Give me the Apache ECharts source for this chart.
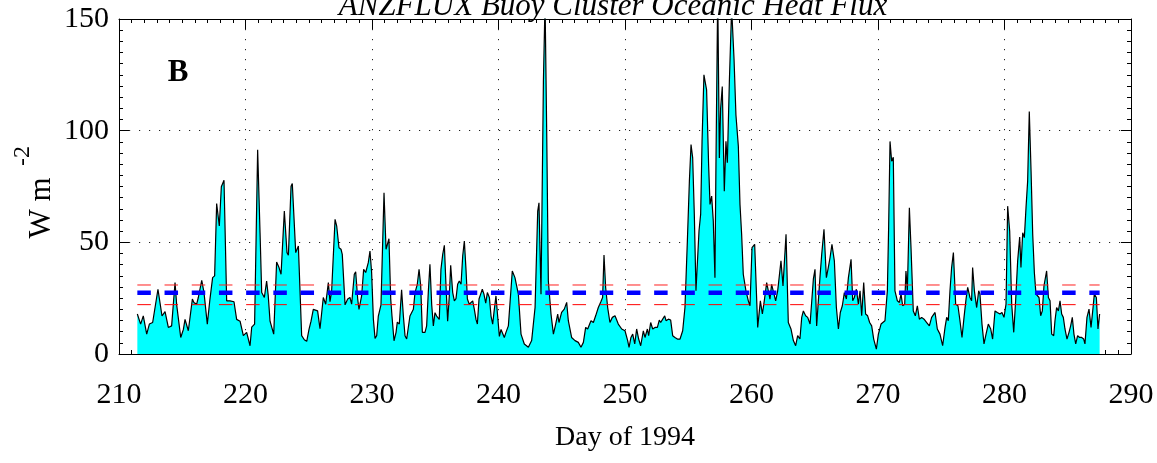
<!DOCTYPE html>
<html>
<head>
<meta charset="utf-8">
<script src="https://cdn.jsdelivr.net/npm/echarts@6/dist/echarts.min.js"></script>
<style>
html,body{margin:0;padding:0;background:#fff;}
#c{width:1157px;height:463px;}
</style>
</head>
<body>
<div id="c"></div>
<script>
// ---- data ----
const xTicks = [210, 220, 230, 240, 250, 260, 270, 280, 290];
const yTicks = [0, 50, 100, 150];
const days = [
211.45,211.71,211.92,212.19,212.40,212.66,213.08,213.40,213.64,213.90,214.16,214.43,214.56,214.88,215.09,215.22,215.48,215.80,215.93,216.14,216.27,216.54,216.72,216.98,217.19,217.40,217.56,217.72,217.93,218.09,218.30,218.51,218.77,219.09,219.30,219.57,219.83,220.09,220.36,220.49,220.72,220.96,
221.15,221.28,221.49,221.67,221.80,221.94,222.07,222.23,222.33,222.46,222.65,222.81,223.07,223.28,223.39,223.60,223.70,223.97,224.18,224.31,224.44,224.65,224.84,225.02,225.18,225.36,225.49,225.70,225.89,226.02,226.15,226.34,226.55,226.68,226.81,227.08,227.21,227.39,227.55,227.65,227.87,228.08,228.26,228.39,228.60,228.71,228.87,228.97,229.18,229.34,229.50,229.71,229.84,229.97,230.11,230.24,230.37,230.50,230.71,
230.95,231.11,231.21,231.34,231.48,231.58,231.74,231.90,232.00,232.16,232.34,232.48,232.61,232.74,233.00,233.14,233.27,233.40,233.58,233.72,233.85,233.98,234.19,234.32,234.45,234.58,234.72,234.85,234.98,235.11,235.32,235.45,235.59,235.72,235.85,235.98,236.11,236.22,236.38,236.51,236.64,236.77,236.90,237.04,237.17,237.30,237.43,237.54,237.69,237.83,237.96,238.09,238.22,238.33,238.46,238.59,238.72,238.85,238.99,239.12,239.28,239.41,239.54,239.64,239.80,239.91,240.07,240.20,240.33,240.46,240.59,240.78,
241.09,241.30,241.57,241.78,242.04,242.36,242.62,242.89,243.10,243.20,243.36,243.55,243.68,243.81,243.94,244.15,244.34,244.52,244.68,244.78,244.99,245.20,245.39,245.52,245.78,246.05,246.31,246.52,246.71,246.89,247.05,247.31,247.50,247.68,247.89,248.10,248.23,248.34,248.47,248.63,248.81,249.00,249.21,249.47,249.74,250.00,250.21,250.32,250.47,
250.61,250.77,250.92,251.08,251.24,251.45,251.58,251.77,251.87,252.03,252.19,252.37,252.56,252.71,252.82,252.98,253.14,253.24,253.43,253.61,253.77,253.95,254.14,254.35,254.56,254.74,254.93,255.09,255.22,255.35,255.48,255.61,255.72,255.85,255.98,256.09,256.24,256.45,256.61,256.72,256.85,256.98,257.11,257.19,257.33,257.46,257.56,257.69,257.85,257.98,258.09,258.25,258.43,258.62,258.77,258.96,259.09,259.22,259.35,259.56,259.75,259.88,260.04,260.25,
260.49,260.70,260.86,261.01,261.20,261.33,261.46,261.59,261.73,261.91,262.07,262.33,262.49,262.73,262.91,263.12,263.31,263.49,263.65,263.83,263.97,264.10,264.28,264.44,264.63,264.76,264.89,265.02,265.15,265.28,265.41,265.55,265.73,265.92,266.07,266.21,266.36,266.55,266.71,266.87,267.02,267.18,267.34,267.50,267.66,267.87,268.00,268.13,268.29,268.45,268.58,268.71,268.87,269.02,269.18,269.34,269.50,269.66,269.87,270.03,270.24,
270.37,270.55,270.74,270.84,270.95,271.08,271.21,271.34,271.53,271.69,271.82,271.95,272.11,272.21,272.32,272.48,272.61,272.79,272.95,273.11,273.27,273.45,273.64,273.85,274.06,274.24,274.37,274.51,274.69,274.90,275.11,275.30,275.43,275.56,275.69,275.82,275.96,276.14,276.32,276.48,276.64,276.80,276.96,277.09,277.27,277.40,277.48,277.62,277.80,277.96,278.06,278.22,278.38,278.54,278.72,278.91,279.06,279.25,279.43,279.64,279.80,279.96,280.12,
280.25,280.41,280.57,280.73,280.88,281.04,281.20,281.30,281.44,281.57,281.70,281.83,281.96,282.10,282.23,282.36,282.49,282.62,282.73,282.86,282.99,283.12,283.23,283.33,283.47,283.60,283.73,283.89,283.99,284.12,284.26,284.39,284.52,284.65,284.78,284.94,285.10,285.23,285.36,285.49,285.63,285.78,285.94,286.10,286.26,286.36,286.52,286.68,286.84,287.00,287.10,287.26,287.39,287.52
];
const flux = [
17.9,13.4,17.1,8.9,13.4,14.1,29,17,19,11.9,12.6,32,22,7.4,11,15.5,10.4,24.6,23,22.3,25.3,33,27.5,13.4,24.6,34.2,35,67.4,57.3,74.9,77.8,23.8,23.8,23.4,15.5,14.7,8.2,9.7,3.7,12,13.4,91.5,
54.3,27.5,25.3,32.7,26,14.7,15.5,8.9,8.9,41.2,38.7,35.7,64,45.4,44.2,75.1,76.3,45.4,48.4,47.6,8.2,6.4,5.7,11,14.7,20,20.8,19.3,11.3,11.3,25.3,22.3,32,23.4,28.3,60.3,57.3,47.6,46.9,44.6,22,24.6,25.3,22.3,35.7,36.8,24.6,20,26,37.9,36.5,41,46.1,36.5,15.5,7,8.2,17,22,
72.2,46.9,46.9,51.6,24.6,17,5.9,9.7,14.3,13.4,28.7,17,8.2,6.7,17,17.8,20,27.5,31.2,37.9,30.5,9.7,9.7,12.6,27.5,40.2,22,12.6,18.5,17,15.5,37.9,44.6,48.7,30.5,14.7,26,39.7,27.5,23.8,24.8,31.2,32.7,31.2,43.9,50.6,37.9,24.6,22.3,22,23.8,20,15.5,13.4,24.6,26.8,29,26.8,22.8,27.5,25.3,17,13.4,18.5,26,18.5,7.9,11,10.7,7.4,9.7,12.6,
37.2,34.2,26.8,8.9,4.5,3,6,20.8,64,67.7,26.8,122,158,99.7,32.7,17.9,8.9,13.4,17.9,14.1,18.6,20.1,23.1,14.9,7.4,6,5.2,3,5.2,11.9,11.2,14.9,14.1,17.1,20.8,23.5,25.3,44.3,29.8,20.8,14.1,16.4,17.1,13.4,11.2,10.4,6,3,7.4,
8.9,4.5,11.2,6.7,3.7,10.4,7.4,11.2,8.2,14.1,11.2,11.9,11.9,15.2,14.1,15.6,17.1,14.9,15.6,15.2,8.2,7.4,6.7,6.7,10.4,20.8,50.6,77.4,93.8,87.8,62.5,28.3,28.3,55.1,62.5,95.2,125,118.3,84.8,67,70.7,59.5,34.2,84.8,162,87.8,110,119.8,72.9,95.2,85.6,122,155,132,107,93,67,53.6,35.7,28.3,23.8,21.6,47.6,49.1,
11.9,23.8,17.9,23.8,32,31.2,24.6,31.2,31.2,23.8,28.3,41.7,30.5,53.6,14.1,11.2,6,3.7,8.2,6.7,16.4,19.3,17.1,16.4,13.4,12.6,33.5,37.9,12.6,11.9,34.2,44.6,55.8,34.2,38.7,43.2,49.1,41.7,20.8,11.2,18.6,21.6,27.5,24.6,34.2,42.4,23.8,25.3,29,22.3,28.3,17.1,32,17.9,17.1,14.1,12.6,6.7,2.2,8.9,13.4,
14.1,14.9,28.3,56.5,95.2,86.3,88.1,28.3,23.8,23.1,26.8,21.6,22.3,37.2,28.3,65.5,47.6,19.3,17.1,21.6,15.6,16.4,15.6,14.1,12.6,16.4,15.6,18.6,11.2,8.9,3.7,11.9,16.4,14.9,28.3,38.7,45.4,22.3,21.6,14.9,7.4,16.4,24.6,29.8,25.3,23.8,38.7,28.3,20.8,28.3,26.8,13.4,4.5,8.9,13.4,11.2,6.7,19.3,18.6,17.9,18.6,16.4,22.3,
66.2,55.1,22.3,9.7,23.8,41.7,52.4,38.7,54.3,52.1,65.5,77.4,108.6,81.8,53.6,36.5,26.8,26.8,25.3,17.1,19.3,30.5,29.8,37.2,25.3,23.8,8.9,8.2,14.9,20.8,19.3,23.8,17.9,16.4,11.2,6.7,9.7,12.6,16.4,8.9,4.5,8.2,7.4,7.4,6.7,4.5,16.4,20.1,11.9,20.8,26.8,25.3,11.2,17.9
];
const meanFlux = 27.4;   // thick blue dashed
const upperFlux = 30.9;  // thin red dashed
const lowerFlux = 22.1;  // thin red dashed

// ---- chart ----
const FONT = 'Liberation Serif';
const chart = echarts.init(document.getElementById('c'), null, {renderer: 'canvas'});
const fluxData = days.map((d, i) => [d, flux[i]]);
const x0 = days[0], x1 = days[days.length - 1];
const hLine = v => [[x0, v], [x1, v]];

const baseX = {
  type: 'value', min: xTicks[0], max: xTicks[xTicks.length - 1], interval: 10,
  axisLine: {show: true, onZero: false, lineStyle: {color: '#000', width: 1}},
  axisTick: {show: true, inside: true, length: 10, lineStyle: {color: '#000', width: 1}},
  minorTick: {show: true, splitNumber: 10, length: 4, lineStyle: {color: '#000', width: 1}},
};
const baseY = {
  type: 'value', min: yTicks[0], max: yTicks[yTicks.length - 1], interval: 50,
  axisLine: {show: true, onZero: false, lineStyle: {color: '#000', width: 1}},
  axisTick: {show: true, inside: true, length: 10, lineStyle: {color: '#000', width: 1}},
  minorTick: {show: true, splitNumber: 10, length: 4, lineStyle: {color: '#000', width: 1}},
};
const dotted = {show: true, showMinLine: false, showMaxLine: false,
  lineStyle: {color: '#222', width: 1, type: [1.2, 8.8]}};

const centerStyle = {textAlign: 'center', textVerticalAlign: 'middle', align: 'center', verticalAlign: 'middle'};

chart.setOption({
  animation: false,
  backgroundColor: '#fff',
  grid: {left: 119, right: 26, top: 19, bottom: 109, containLabel: false},
  xAxis: [
    Object.assign({}, baseX, {
      position: 'bottom',
      axisLabel: {show: true, fontFamily: FONT, fontSize: 30, color: '#000', margin: 26},
      splitLine: dotted,
      name: 'Day of 1994', nameLocation: 'middle', nameGap: 70,
      nameTextStyle: {fontFamily: FONT, fontSize: 28, color: '#000'}
    }),
    Object.assign({}, baseX, {
      position: 'top', axisLabel: {show: false}, splitLine: {show: false}
    })
  ],
  yAxis: [
    Object.assign({}, baseY, {
      position: 'left',
      axisLabel: {show: true, fontFamily: FONT, fontSize: 30, color: '#000', margin: 10},
      splitLine: dotted
    }),
    Object.assign({}, baseY, {
      position: 'right', axisLabel: {show: false}, splitLine: {show: false}
    })
  ],
  series: [
    {
      type: 'line', xAxisIndex: 0, yAxisIndex: 0, data: fluxData,
      symbol: 'none', showSymbol: false, smooth: false, clip: true,
      lineStyle: {color: '#000', width: 1.2},
      areaStyle: {color: '#00ffff', opacity: 1},
      z: 2
    },
    {
      type: 'line', xAxisIndex: 0, yAxisIndex: 0, data: hLine(upperFlux),
      symbol: 'none', lineStyle: {color: '#ff2020', width: 1, type: [13.5, 13.7]}, z: 4
    },
    {
      type: 'line', xAxisIndex: 0, yAxisIndex: 0, data: hLine(lowerFlux),
      symbol: 'none', lineStyle: {color: '#ff0000', width: 1, type: [13.5, 13.7]}, z: 4
    },
    {
      type: 'line', xAxisIndex: 0, yAxisIndex: 0, data: hLine(meanFlux),
      symbol: 'none', lineStyle: {color: '#0000ff', width: 4.5, type: [13.5, 13.7]}, z: 5
    }
  ],
  graphic: [
    {
      type: 'text', x: 613, y: 7, z: 10,
      style: Object.assign({text: 'ANZFLUX Buoy Cluster Oceanic Heat Flux', fill: '#000',
        fontFamily: FONT, fontSize: 31, fontStyle: 'italic'}, centerStyle)
    },
    {
      type: 'text', x: 178, y: 72.5, z: 10,
      style: Object.assign({text: 'B', fill: '#000', fontFamily: FONT, fontSize: 31, fontWeight: 'bold'}, centerStyle)
    },
    {
      type: 'text', x: 42, y: 208, rotation: Math.PI / 2, z: 10,
      style: Object.assign({text: 'W m', fill: '#000', fontFamily: FONT, fontSize: 31}, centerStyle)
    },
    {
      type: 'text', x: 23, y: 156, rotation: Math.PI / 2, z: 10,
      style: Object.assign({text: '-2', fill: '#000', fontFamily: FONT, fontSize: 24}, centerStyle)
    }
  ]
});
</script>
</body>
</html>
